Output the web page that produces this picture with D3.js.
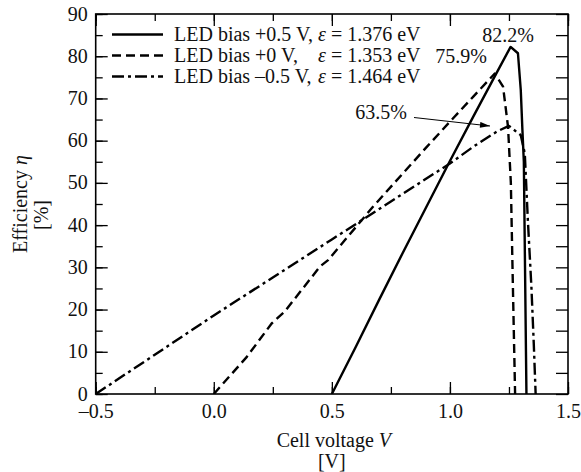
<!DOCTYPE html>
<html><head><meta charset="utf-8">
<script src="https://cdn.jsdelivr.net/npm/d3@7"></script>
<style>
body{margin:0;background:#fff;}
svg text{font-family:"Liberation Serif","Times New Roman",serif !important;fill:#111;}
</style></head>
<body><svg id="c" width="581" height="472"></svg>
<script>
// Data (cell voltage V [V], efficiency η [%])
const biasPlus05 = [[0.5,0],[0.6,11],[0.7,22.3],[0.8,33.4],[0.9,44.3],[1.0,55.2],[1.1,65.8],[1.2,76.3],[1.257,82.2],[1.288,80.7],[1.30,72],[1.307,62.5],[1.313,55],[1.318,30],[1.322,10],[1.324,0]];
const biasZero = [[0,0],[0.14,8.8],[0.245,16.7],[0.30,19.5],[0.45,30.2],[0.484,31.7],[0.562,36.9],[0.675,44.4],[0.8,52.2],[0.9,58.4],[1.0,64.5],[1.1,70.5],[1.19,75.9],[1.225,72.8],[1.246,63.3],[1.258,50],[1.265,30],[1.276,0]];
const biasMinus05 = [[-0.5,0],[-0.25,9.3],[0,18.6],[0.25,27.6],[0.5,36.6],[0.75,45.6],[1.0,54.6],[1.1,58.6],[1.2,62.2],[1.25,63.5],[1.30,61.3],[1.317,57],[1.33,41.2],[1.345,25.4],[1.355,12],[1.363,0]];
const seriesNames = ["LED bias +0.5 V,","LED bias +0 V,","LED bias –0.5 V,"];
const seriesEps = ["1.376","1.353","1.464"];
const peakLabels = ["82.2%","75.9%","63.5%"];
const xTicks = [-0.5,0,0.5,1.0,1.5];
const yTicks = [0,10,20,30,40,50,60,70,80,90];

const FS = 20;
const svg = d3.select("#c");
const L=95.7,R=568,T=14,B=394;
const x = d3.scaleLinear().domain([-0.5,1.5]).range([L,R]);
const y = d3.scaleLinear().domain([0,90]).range([B,T]);

const styles = [
  {dash:null},
  {dash:"9,5"},
  {dash:"12,4,3,4"}
];
const data=[biasPlus05,biasZero,biasMinus05];
const line=d3.line().x(d=>x(d[0])).y(d=>y(d[1]));
svg.append("clipPath").attr("id","cp").append("rect").attr("x",L).attr("y",T).attr("width",R-L).attr("height",B-T);
data.forEach((d,i)=>{
  svg.append("path").attr("d",line(d)).attr("fill","none").attr("stroke","#000")
    .attr("stroke-width",2.4).attr("stroke-dasharray",styles[i].dash).attr("stroke-linejoin","round")
    .attr("clip-path","url(#cp)");
});

// Axes with inward ticks
const minorX = d3.range(-0.5,1.5001,0.25);
const minorY = d3.range(0,90.001,5);
const fmtX = v => v<0 ? "–"+Math.abs(v).toFixed(1) : v.toFixed(1);
const g = svg.append("g");
g.append("g").attr("transform",`translate(0,${B})`)
 .call(d3.axisBottom(x).tickValues(minorX).tickSize(-7).tickFormat(""))
 .call(a=>a.select(".domain").remove());
g.append("g").attr("class","xlab").attr("transform",`translate(0,${B})`)
 .call(d3.axisBottom(x).tickValues(xTicks).tickSize(-12).tickPadding(10).tickFormat(fmtX))
 .call(a=>a.select(".domain").remove());
g.append("g").attr("transform",`translate(0,${T})`)
 .call(d3.axisTop(x).tickValues(minorX).tickSize(-7).tickFormat(""))
 .call(a=>a.select(".domain").remove());
g.append("g").attr("transform",`translate(0,${T})`)
 .call(d3.axisTop(x).tickValues(xTicks).tickSize(-12).tickFormat(""))
 .call(a=>a.select(".domain").remove());
g.append("g").attr("transform",`translate(${L},0)`)
 .call(d3.axisLeft(y).tickValues(minorY).tickSize(-7).tickFormat(""))
 .call(a=>a.select(".domain").remove());
g.append("g").attr("class","ylab").attr("transform",`translate(${L},0)`)
 .call(d3.axisLeft(y).tickValues(yTicks).tickSize(-12).tickPadding(8).tickFormat(d3.format("d")))
 .call(a=>a.select(".domain").remove());
g.append("g").attr("transform",`translate(${R},0)`)
 .call(d3.axisRight(y).tickValues(minorY).tickSize(-12).tickFormat(""))
 .call(a=>a.select(".domain").remove());
g.selectAll("g").attr("font-family",null).attr("font-size",null);
g.selectAll(".tick line").attr("stroke","#000").attr("stroke-width",1.3);
g.selectAll(".tick text").style("font-size",FS+"px").attr("fill","#111");
g.selectAll(".ylab .tick text").attr("dy","0.3em");
svg.append("rect").attr("x",L).attr("y",T).attr("width",R-L).attr("height",B-T)
  .attr("fill","none").attr("stroke","#000").attr("stroke-width",1.6);

// Legend
const ly=[34.5,55.5,76.5];
seriesNames.forEach((n,i)=>{
  svg.append("line").attr("x1",112).attr("x2",163).attr("y1",ly[i]).attr("y2",ly[i])
    .attr("stroke","#000").attr("stroke-width",2.4).attr("stroke-dasharray",styles[i].dash);
  svg.append("text").attr("x",174).attr("y",ly[i]+6).style("font-size",FS+"px").text(n);
  const t=svg.append("text").attr("x",318).attr("y",ly[i]+6).style("font-size",FS+"px");
  t.append("tspan").attr("font-style","italic").text("ε");
  t.append("tspan").text(" = "+seriesEps[i]+" eV");
});

// Peak annotations
const ann = (tx,ty,s)=>svg.append("text").attr("x",tx).attr("y",ty).attr("text-anchor","middle").style("font-size",FS+"px").text(s);
ann(508,42,peakLabels[0]);
ann(461,63,peakLabels[1]);
ann(381,119,peakLabels[2]);
svg.append("defs").append("marker").attr("id","ah").attr("viewBox","0 0 10 6").attr("refX",10).attr("refY",3)
  .attr("markerWidth",11).attr("markerHeight",6).attr("markerUnits","userSpaceOnUse").attr("orient","auto")
  .append("path").attr("d","M0,0L10,3L0,6Z").attr("fill","#000");
svg.append("line").attr("x1",414).attr("y1",117.5).attr("x2",490).attr("y2",126)
  .attr("stroke","#000").attr("stroke-width",1).attr("marker-end","url(#ah)");

// Axis titles
const xt=svg.append("text").attr("x",(L+R)/2+2).attr("y",447).attr("text-anchor","middle").style("font-size",FS+"px");
xt.append("tspan").text("Cell voltage ");
xt.append("tspan").attr("font-style","italic").text("V");
svg.append("text").attr("x",(L+R)/2).attr("y",468).attr("text-anchor","middle").style("font-size",FS+"px").text("[V]");
const yt=svg.append("text").attr("transform",`translate(27,${(T+B)/2}) rotate(-90)`).attr("text-anchor","middle").style("font-size",FS+"px");
yt.append("tspan").text("Efficiency ");
yt.append("tspan").attr("font-style","italic").text("η");
svg.append("text").attr("transform",`translate(48,${(T+B)/2+11}) rotate(-90)`).attr("text-anchor","middle").style("font-size",FS+"px").text("[%]");
</script></body></html>
